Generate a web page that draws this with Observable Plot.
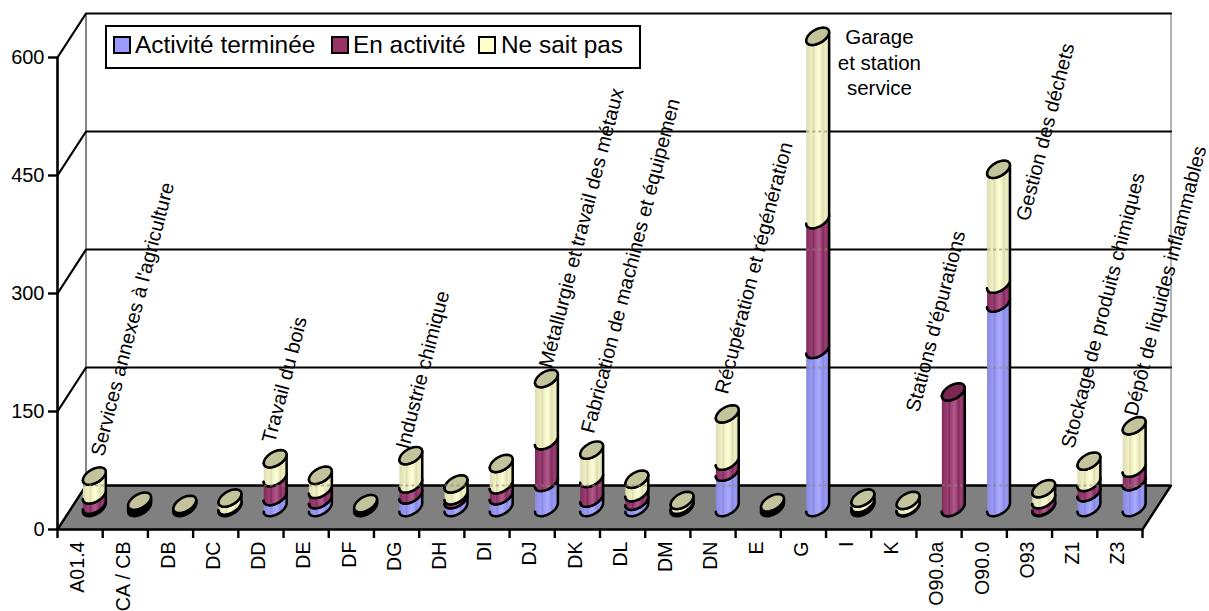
<!DOCTYPE html>
<html><head><meta charset="utf-8">
<script src="https://cdn.jsdelivr.net/npm/d3@7"></script>
<script src="https://cdn.jsdelivr.net/npm/@observablehq/plot@0.6"></script>
<style>
html,body{margin:0;padding:0;background:#fff;overflow:hidden;width:1209px;height:611px}
#wrap{position:relative;width:1209px;height:611px;overflow:hidden;font-family:"Liberation Sans",Arial,sans-serif}
#legend{position:absolute;left:105px;top:25px;width:532px;height:40px;border:2px solid #000;background:#fff;font-size:24.4px;color:#000}
#legend i{position:absolute;top:9px;width:14px;height:14px;border:2px solid #000;display:block}
#legend span{position:absolute;top:4px;white-space:nowrap;line-height:28px}
</style></head><body>
<div id="wrap"></div>
<script>
const categories = ["A01.4","CA / CB","DB","DC","DD","DE","DF","DG","DH","DI","DJ","DK","DL","DM","DN","E","G","I","K","O90.0a","O90.0","O93","Z1","Z3"];
const activiteTerminee = [3,2,1,1,14,10,1,16,10,15,32,12,8,1,45,1,201,2,0,0,260,1,19,33];
const enActivite       = [13,3,1,1,24,13,2,14,5,14,53,25,11,2,14,3,165,3,1,147,24,9,13,17];
const neSaitPas        = [24,3,2,10,24,18,2,36,15,27,79,36,17,6,60,2,233,7,8,null,146,14,27,54];
const seriesNames = ["Activité terminée","En activité","Ne sait pas"];
const yTicks = [0,150,300,450,600];
const annotationTexts = ["Services annexes à l'agriculture","Travail du bois","Industrie chimique","Métallurgie et travail des métaux","Fabrication de machines et équipemen","Récupération et régénération","Stations d'épurations","Gestion des déchets","Stockage de produits chimiques","Dépôt de liquides inflammables"];
const annotationCat = [0.885,4.668,7.633,10.796,11.726,14.69,18.916,21.35,22.345,23.74];
const annotationVal = [94,110.6,103,206,123,173,150,393,104,145];

// oblique projection, in data units
const n = categories.length, depthX = 0.6305, depthY = 55.93;
const rw = 0.2212, rdx = 0.1239, rdy = 11.06, t0 = Math.atan2(rdx, rw);
const cx = i => i + 0.5 + depthX / 2, baseY = depthY / 2;
const ell = (i, v, t) => ({x: cx(i) + Math.cos(t) * rw + Math.sin(t) * rdx, y: baseY + v + Math.sin(t) * rdy});
const arc = (i, v, a, b, id) => d3.range(0, 25).map(k => ({...ell(i, v, a + (b - a) * k / 24), id}));

function sides(lower, upper) {
  const out = [];
  for (let i = 0; i < n; i++) {
    if (upper[i] === null) continue;
    const v0 = lower(i), v1 = v0 + upper[i];
    out.push(...arc(i, v0, Math.PI + t0, 2 * Math.PI + t0, i), ...arc(i, v1, 2 * Math.PI + t0, Math.PI + t0, i));
  }
  return out;
}
const cum1 = i => 0, cum2 = i => activiteTerminee[i], cum3 = i => activiteTerminee[i] + enActivite[i];
const total = i => cum3(i) + (neSaitPas[i] || 0);
const capsYellow = [], capsPurple = [];
for (let i = 0; i < n; i++) (neSaitPas[i] === null ? capsPurple : capsYellow).push(...arc(i, total(i), 0, 2 * Math.PI, i));

// walls
const wall = g => [{x: 0, y: g}, {x: depthX, y: g + depthY}, {x: n + depthX, y: g + depthY}];
const wallLines = yTicks.slice(1).flatMap(g => wall(g).map(p => ({...p, g})));
const floor = [{x:0,y:0},{x:n,y:0},{x:n+depthX,y:depthY},{x:depthX,y:depthY}];
// faint wall lines showing through the cylinders
const through = [];
for (let i = 0; i < n; i++) for (const g of yTicks.slice(0,4)) {
  const wy = g + depthY;
  if (total(i) + baseY > wy) through.push({x1: cx(i) - Math.hypot(rw, rdx), x2: cx(i) + Math.hypot(rw, rdx), y: wy});
}
const cyl = {stroke: "#000", strokeWidth: 2.5, strokeLinejoin: "round", x: "x", y: "y", z: "id"};

const plot = Plot.plot({
  width: 1209, height: 611, marginLeft: 57, marginRight: 67, marginTop: 57, marginBottom: 82,
  style: {fontFamily: '"Liberation Sans",Arial,sans-serif', fontSize: "20px", background: "#fff", color: "#000"},
  x: {type: "linear", domain: [0, n]},
  y: {type: "linear", domain: [0, 600]},
  marks: [
    Plot.line(floor.concat(floor[0]), {x: "x", y: "y", fill: "#808080", stroke: "#000", strokeWidth: 2.4}),
    Plot.ruleX([depthX], {y1: depthY, y2: 600 + depthY, stroke: "#333", strokeWidth: 1.2}),
    Plot.ruleX([n + depthX], {y1: depthY, y2: 600 + depthY, stroke: "#808080", strokeWidth: 1.2}),
    Plot.line(wallLines, {x: "x", y: "y", z: "g", stroke: "#000", strokeWidth: 2.2}),
    Plot.ruleX([0], {y1: 0, y2: 600, stroke: "#000", strokeWidth: 2.6}),
    Plot.axisY({ticks: yTicks, tickSize: 9, tickPadding: 4, strokeWidth: 2.4, fontSize: 20, label: null}),
    Plot.axisX({ticks: d3.range(0, n + 1), tickSize: 9, tickFormat: () => "", strokeWidth: 2.4, label: null}),
    Plot.line(sides(cum1, activiteTerminee), {...cyl, fill: "url(#gBlue)"}),
    Plot.line(sides(cum2, enActivite), {...cyl, fill: "url(#gPurple)"}),
    Plot.line(sides(cum3, neSaitPas), {...cyl, fill: "url(#gYellow)"}),
    Plot.line(capsYellow, {...cyl, fill: "#c4c49c"}),
    Plot.line(capsPurple, {...cyl, fill: "#7a2952"}),
    Plot.link(through, {x1: "x1", x2: "x2", y1: "y", y2: "y", stroke: "#8c8c70", strokeOpacity: 0.6, strokeWidth: 2, strokeDasharray: "3,3"}),
    Plot.text(categories, {x: (d, i) => i + 0.5, y: () => 0, text: d => d, rotate: -90, textAnchor: "end", dy: 12, dx: -2, fontSize: 19.6, fill: "#000"}),
    Plot.text(annotationTexts, {x: (d, i) => annotationCat[i], y: (d, i) => annotationVal[i], text: d => d, rotate: -75.5, textAnchor: "start", fontSize: 20, fill: "#000"}),
    Plot.text(["Garage\net station\nservice"], {x: () => 18.18, y: () => 640, text: d => d, lineAnchor: "top", lineHeight: 1.25, fontSize: 20.5, fill: "#000"})
  ]
});

function grad(id, edge, mid, light) {
  return `<linearGradient id="${id}" x1="0" x2="1" y1="0" y2="0">
  <stop offset="0" stop-color="${edge}"/><stop offset=".25" stop-color="${mid}"/><stop offset=".32" stop-color="${edge}"/>
  <stop offset=".38" stop-color="${mid}"/><stop offset=".55" stop-color="${light}"/><stop offset=".66" stop-color="${mid}"/>
  <stop offset=".74" stop-color="${edge}"/><stop offset=".82" stop-color="${mid}"/><stop offset="1" stop-color="${edge}"/></linearGradient>`;
}
const defs = document.createElementNS("http://www.w3.org/2000/svg", "defs");
defs.innerHTML = grad("gBlue", "#8888e0", "#9a9af5", "#aaaaff") + grad("gPurple", "#802a58", "#9b4076", "#b05a8a") + grad("gYellow", "#dcdcb0", "#f0f0c4", "#ffffd6");
const svg = plot.tagName.toLowerCase() === "svg" ? plot : plot.querySelector("svg");
svg.prepend(defs);
const wrap = document.getElementById("wrap");
wrap.appendChild(plot);

const swatchColors = ["#9999ff", "#993366", "#ffffcc"], swatchLeft = [6, 224, 371], textLeft = [28, 246, 394];
const legend = document.createElement("div");
legend.id = "legend";
seriesNames.forEach((s, i) => {
  const sw = document.createElement("i");
  sw.style.left = swatchLeft[i] + "px"; sw.style.background = swatchColors[i];
  const t = document.createElement("span");
  t.style.left = textLeft[i] + "px"; t.textContent = s;
  legend.append(sw, t);
});
wrap.appendChild(legend);
</script>
</body></html>
